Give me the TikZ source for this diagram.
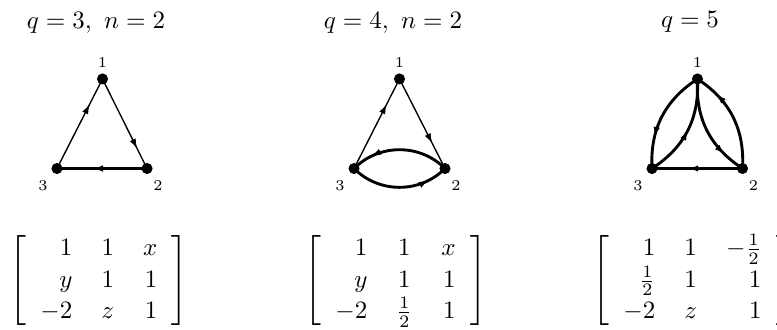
\documentclass[tikz,border=0pt]{standalone}
\usepackage{tkz-euclide}
\usetikzlibrary{arrows.meta,calc,decorations.markings,positioning}
\setlength{\arraycolsep}{5.8pt}
\renewcommand{\arraystretch}{1.05}

\begin{document}
\begin{tikzpicture}[
  thin edge/.style={line width=.55pt},
  heavy edge/.style={line width=1.15pt},
  arrowat/.style={postaction={decorate},decoration={markings,
    mark=at position #1 with {\arrow{Latex[length=4pt,width=2.6pt]}}}},
  lbl/.style={font=\fontsize{6}{7}\selectfont,inner sep=0pt},
  mtx/.style={inner sep=0pt,anchor=west}]
\useasboundingbox (0,0) rectangle (10.923,4.639);
\tkzSetUpPoint[fill=black,color=black]

% vertices of the three graphs
\tkzDefPoints{1.441/3.529/U1,2.067/2.270/U2,0.801/2.270/U3}
\tkzDefPoints{5.616/3.529/V1,6.256/2.270/V2,4.977/2.270/V3}
\tkzDefPoints{9.805/3.529/W1,10.438/2.270/W2,9.166/2.270/W3}

% titles
\node (t1) at (1.350,4.316) {$q=3,\ n=2$};
\node (t2) at (5.525,4.316) {$q=4,\ n=2$};
\node (t3) at (9.700,4.330) {$q=5$};

% q=3
\draw[thin edge,arrowat=.72] (U3) -- (U1);
\draw[thin edge,arrowat=.78] (U1) -- (U2);
\draw[heavy edge,arrowat=.6] (U2) -- (U3);

% q=4
\draw[thin edge,arrowat=.72] (V3) -- (V1);
\draw[thin edge,arrowat=.72] (V1) -- (V2);
\draw[heavy edge,arrowat=.79] (V2) to[bend right=45] (V3);
\draw[heavy edge,arrowat=.8] (V3) to[bend right=45] (V2);

% q=5
\draw[heavy edge,arrowat=.6] (W2) -- (W3);
\draw[heavy edge,arrowat=.7] (W1) to[bend right=30] (W3);
\draw[heavy edge,arrowat=.5] (W3) to[bend right=30] (W1);
\draw[heavy edge,arrowat=.77] (W2) to[bend right=30] (W1);
\draw[heavy edge,arrowat=.78] (W1) to[bend right=30] (W2);

\tkzDrawPoints[size=4](U1,U2,U3,V1,V2,V3,W1,W2,W3)

% vertex labels
\node[lbl] (u1) [yshift=6.6pt] at (U1) {1};
\node[lbl] (u2) [xshift=4.4pt,yshift=-6.8pt] at (U2) {2};
\node[lbl] (u3) [xshift=-5.6pt,yshift=-6.8pt] at (U3) {3};
\node[lbl] (v1) [yshift=6.6pt] at (V1) {1};
\node[lbl] (v2) [xshift=4.4pt,yshift=-6.8pt] at (V2) {2};
\node[lbl] (v3) [xshift=-5.6pt,yshift=-6.8pt] at (V3) {3};
\node[lbl] (w1) [yshift=6.6pt] at (W1) {1};
\node[lbl] (w2) [xshift=4.4pt,yshift=-6.8pt] at (W2) {2};
\node[lbl] (w3) [xshift=-5.6pt,yshift=-6.8pt] at (W3) {3};

% matrices
\node[mtx] (m1) at (0.124,0.689) {$\left[\begin{array}{rcr}
  1 & 1 & x\\ y & 1 & 1\\ -2 & z & 1\end{array}\right]$};
\node[mtx] (m2) at (4.271,0.689) {$\left[\begin{array}{rcr}
  1 & 1 & x\\ y & 1 & 1\\ -2 & \frac12 & 1\end{array}\right]$};
\node[mtx] (m3) at (8.319,0.689) {$\left[\begin{array}{rcr}
  1 & 1 & -\frac12\\ \frac12 & 1 & 1\\ -2 & z & 1\end{array}\right]$};
\end{tikzpicture}
\end{document}
